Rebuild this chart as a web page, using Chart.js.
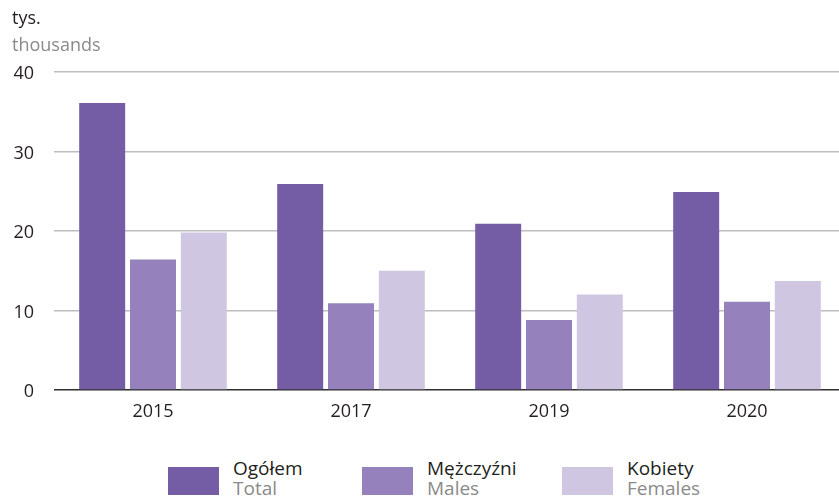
<!DOCTYPE html>
<html>
<head>
<meta charset="utf-8">
<script src="https://cdn.jsdelivr.net/npm/chart.js@4/dist/chart.umd.min.js"></script>
<style>
  html, body { margin: 0; padding: 0; width: 839px; height: 500px; overflow: hidden; background: #fff; }
  #wrap { position: relative; width: 839px; height: 500px; overflow: hidden; font-family: "Open Sans", sans-serif; }
  #c { position: absolute; left: 0; top: 0; }
  .unit { position: absolute; left: 12px; font-size: 18px; line-height: 18px; }
  .legend-item { position: absolute; top: 458px; }
  .sw { position: absolute; top: 9px; width: 51px; height: 28px; }
  .lt { position: absolute; top: 0; font-size: 19px; line-height: 20px; white-space: nowrap; }
  .pl { color: #231f20; }
  .en { color: #8a8a8a; }
</style>
</head>
<body>
<div id="wrap">
  <canvas id="c" width="847" height="440" style="width:847px;height:440px"></canvas>
  <div class="unit pl" style="top:8px">tys.</div>
  <div class="unit en" style="top:35px">thousands</div>
  <div id="legend"></div>
</div>
<script>
const categories = ['2015', '2017', '2019', '2020'];
const totalValues = [36.1, 25.9, 20.9, 24.9];
const maleValues = [16.4, 10.9, 8.8, 11.1];
const femaleValues = [19.8, 15.0, 12.0, 13.7];
const seriesNamesPl = ['Ogółem', 'Mężczyźni', 'Kobiety'];
const seriesNamesEn = ['Total', 'Males', 'Females'];
const yTicks = [0, 10, 20, 30, 40];

const colors = ['#755da6', '#9581bb', '#cfc7e2'];
const legendX = [168, 362, 562];

const chart = new Chart(document.getElementById('c'), {
  type: 'bar',
  data: {
    labels: categories,
    datasets: [
      { label: seriesNamesPl[0], data: totalValues, backgroundColor: colors[0] },
      { label: seriesNamesPl[1], data: maleValues, backgroundColor: colors[1] },
      { label: seriesNamesPl[2], data: femaleValues, backgroundColor: colors[2] }
    ]
  },
  options: {
    responsive: false,
    animation: false,
    events: [],
    layout: { padding: { top: 72, right: 1, bottom: 0, left: 0 } },
    datasets: { bar: { categoryPercentage: 0.77, barPercentage: 0.905, borderWidth: 0 } },
    plugins: { legend: { display: false }, tooltip: { enabled: false } },
    scales: {
      x: {
        grid: { display: false, drawTicks: false },
        border: { display: false },
        ticks: { color: '#231f20', font: { family: 'Open Sans', size: 18 }, padding: 11, maxRotation: 0 },
        afterFit: (s) => { s.height = 50; }
      },
      y: {
        min: 0, max: 40,
        afterBuildTicks: (s) => { s.ticks = yTicks.map(v => ({ value: v })); },
        grid: {
          drawTicks: false,
          color: (ctx) => ctx.tick && ctx.tick.value === 0 ? '#2f2f2f' : '#bdbdbd',
          lineWidth: (ctx) => ctx.tick && ctx.tick.value === 0 ? 1.5 : 1.6
        },
        border: { display: false },
        ticks: { color: '#231f20', font: { family: 'Open Sans', size: 18 }, padding: 20, labelOffset: 2 },
        afterFit: (s) => { s.width = 54; }
      }
    }
  }
});

const legend = document.getElementById('legend');
seriesNamesPl.forEach((name, i) => {
  const item = document.createElement('div');
  item.className = 'legend-item';
  item.style.left = legendX[i] + 'px';
  item.innerHTML = '<div class="sw" style="left:0;background:' + colors[i] + '"></div>' +
    '<div class="lt" style="left:65px"><span class="pl">' + name + '</span><br><span class="en">' + seriesNamesEn[i] + '</span></div>';
  legend.appendChild(item);
});
</script>
</body>
</html>
